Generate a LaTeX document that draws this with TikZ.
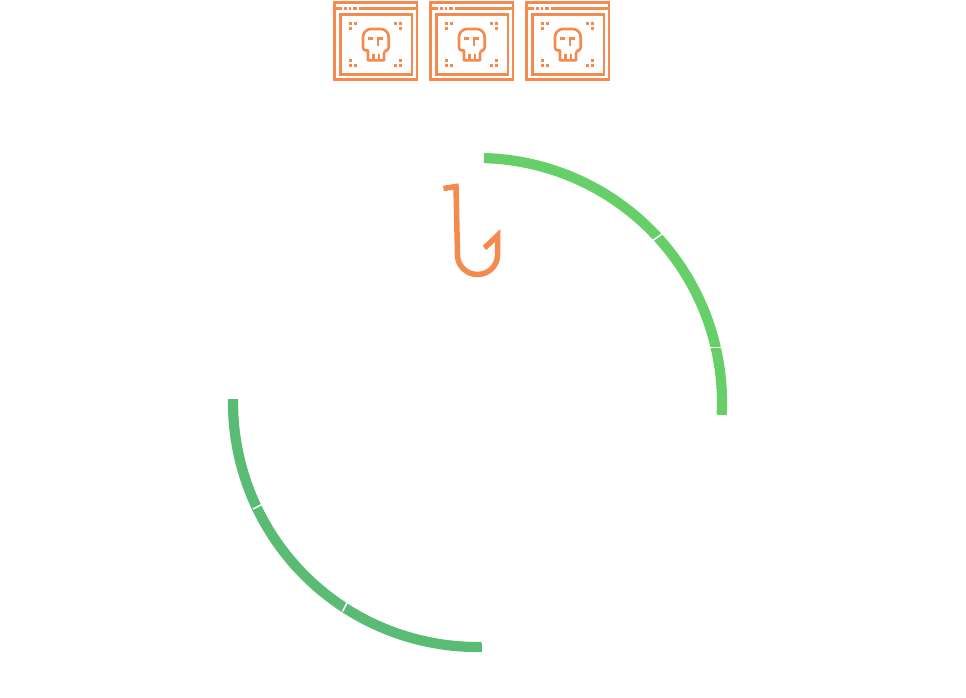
\documentclass[tikz,border=0pt]{standalone}
\usetikzlibrary{calc}
\definecolor{orangeline}{HTML}{F58A4F}
\definecolor{greenlight}{HTML}{67CF67}
\definecolor{greendark}{HTML}{5ABB74}
\tikzset{
  ring/.style={line width=10.2pt},
  ringcut/.style={draw=white,line width=1.5pt},
  hookline/.style={draw=orangeline,line width=5.5pt,miter limit=10},
  iconline/.style={draw=orangeline,line width=2.6pt},
  icondot/.style={fill=orangeline},
}
\newcommand{\gdot}[2]{\fill[icondot] (#1-1.5,#2-1.5) rectangle (#1+1.5,#2+1.5);}
\begin{document}
\begin{tikzpicture}[x=1pt,y=-1pt]
\useasboundingbox (0,0) rectangle (966,697);
% ring: centre (477.5,402.5), radius 244.5
\coordinate (c) at (477.5,402.5);
\draw[ring,greenlight] ($(c)+(88.5:244.5pt)$) arc[start angle=88.5,end angle=-2.9,radius=244.5pt];
\draw[ring,greendark] ($(c)+(179.2:244.5pt)$) arc[start angle=179.2,end angle=271,radius=244.5pt];
% cuts between the ring segments
\draw[ringcut] (652,241) -- (662,234);
\draw[ringcut] (709,347.3) -- (722,347.3);
\draw[ringcut] (253,509) -- (263.6,503.6);
\draw[ringcut] (342.5,611.5) -- (348,601);
% hook
\draw[hookline] (443.5,188.5) -- (456,186.5) -- (457.5,255)
  arc[start angle=180,end angle=360,x radius=20pt,y radius=19.5pt] -- (497.5,235.5) -- (484.5,248);
% three icons
\foreach \dx in {0,96,192}{
\begin{scope}[xshift=\dx pt]
  \draw[iconline] (334.4,2.7) rectangle (416.8,79.7);
  \draw[iconline] (334.4,8.5) -- (341.5,8.5);
  \draw[iconline] (344,8.5) -- (346.7,8.5) (348.5,8.5) -- (351,8.5) (353,8.5) -- (356.5,8.5) (359,8.5) -- (416.8,8.5);
  \draw[iconline] (340.2,14.5) rectangle (412,74.7);
  % skull
  \draw[iconline,line join=round] (368,60.3) -- (368,50.5) [rounded corners=3pt] -- (363,50.5) [rounded corners=8pt] -- (363,29) -- (388.7,29) [rounded corners=3pt] -- (388.7,50.5) -- (384,50.5) [sharp corners] -- (384,60.3) -- cycle;
  \draw[iconline] (368.3,38.7) -- (373.3,38.7) (378,46) -- (378,38.7) (376.7,38.7) -- (383.3,38.7);
  \draw[iconline] (373.5,54) -- (373.5,60) (378.8,54) -- (378.8,60);
  % corner marks
  \gdot{350.3}{23.5}\gdot{355}{23.5}\gdot{350.3}{28.5}
  \gdot{395.5}{23.5}\gdot{400.5}{23.5}\gdot{400.5}{28.5}
  \gdot{350.3}{60}\gdot{350.3}{65}\gdot{355}{65}
  \gdot{400.5}{60}\gdot{395.5}{65}\gdot{400.5}{65}
\end{scope}}
\end{tikzpicture}
\end{document}
